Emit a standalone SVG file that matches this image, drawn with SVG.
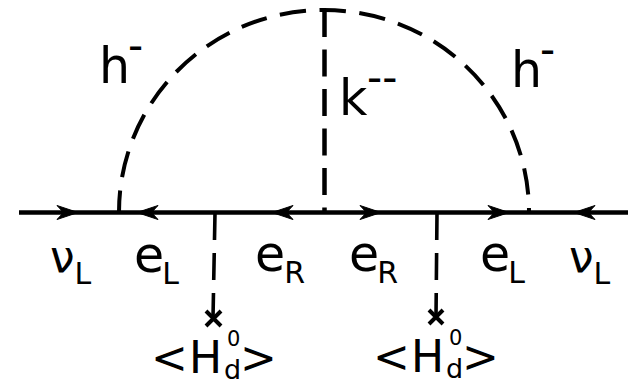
<svg xmlns="http://www.w3.org/2000/svg" width="631" height="385" viewBox="0 0 631 385">
<style>
text{font-family:"DejaVu Sans",sans-serif;fill:#000}
.m{font-size:49px}
.n{font-size:44px}
.s{font-size:30px}
.h{font-size:44px}
.u{font-size:42px}
.z{font-size:21px}
.b{font-size:27px}
.l{fill:none;stroke:#000;stroke-width:4.500}
.x{fill:none;stroke:#000;stroke-width:4}
.d{fill:none;stroke:#000;stroke-width:4;stroke-dasharray:26.500 13.500}
.t{fill:none;stroke:#000;stroke-width:4.500;stroke-dasharray:27 12.500}
.v{fill:none;stroke:#000;stroke-width:3.600;stroke-dasharray:27 13}
</style>
<defs>
<path id="ar" d="M0 0L-21 -7L-14.500 0L-21 7Z" fill="#000" stroke="#000" stroke-width="1"/>
</defs>
<g id="connectors">
<path class="l" d="M19 212.500H628"/>
<use href="#ar" transform="translate(78 212.500)"/>
<use href="#ar" transform="translate(137 212.500) rotate(180)"/>
<use href="#ar" transform="translate(272 212.500) rotate(180)"/>
<use href="#ar" transform="translate(381 212.500)"/>
<use href="#ar" transform="translate(509 212.500)"/>
<use href="#ar" transform="translate(574 212.500) rotate(180)"/>
<path class="d" stroke-dashoffset="5" d="M119 212A205 202 0 0 1 529 212"/>
<path class="t" d="M324.500 10V212"/>
<path class="v" d="M215 213L213 318"/>
<path class="v" d="M437 213L436 317"/>
<path class="x" d="M206 311L221 326M221 311L206 326M429 310L443 324M443 310L429 324"/>
</g>
<g id="h-left"><text class="m" x="99" y="83">h</text><text class="u" x="128" y="59.500">-</text></g>
<g id="h-right"><text class="m" x="511" y="86.500">h</text><text class="u" x="540" y="63.500">-</text></g>
<g id="k"><text class="m" x="339" y="115">k</text><text class="u" x="367" y="91.500">--</text></g>
<g id="nu-left"><text class="n" x="50" y="272">ν<tspan class="s" dx="0" dy="12">L</tspan></text></g>
<g id="eL-left"><text class="m" x="134" y="272">e<tspan class="s" dx="-2" dy="12">L</tspan></text></g>
<g id="eR-left"><text class="m" x="255" y="271">e<tspan class="s" dx="-1" dy="12">R</tspan></text></g>
<g id="eR-right"><text class="m" x="349" y="271">e<tspan class="s" dx="-2" dy="12">R</tspan></text></g>
<g id="eL-right"><text class="m" x="480" y="271">e<tspan class="s" dx="-2" dy="12">L</tspan></text></g>
<g id="nu-right"><text class="n" x="569" y="272">ν<tspan class="s" dx="0" dy="12">L</tspan></text></g>
<g id="vev-left"><text class="h" x="151" y="373">&lt;</text><text class="h" x="189" y="373">H</text><text class="b" x="224" y="378.500">d</text><text class="z" x="227" y="346">0</text><text class="h" x="240" y="373">&gt;</text></g>
<g id="vev-right"><text class="h" x="373" y="372">&lt;</text><text class="h" x="411" y="372">H</text><text class="b" x="446" y="378">d</text><text class="z" x="449" y="345">0</text><text class="h" x="462" y="372">&gt;</text></g>
</svg>
